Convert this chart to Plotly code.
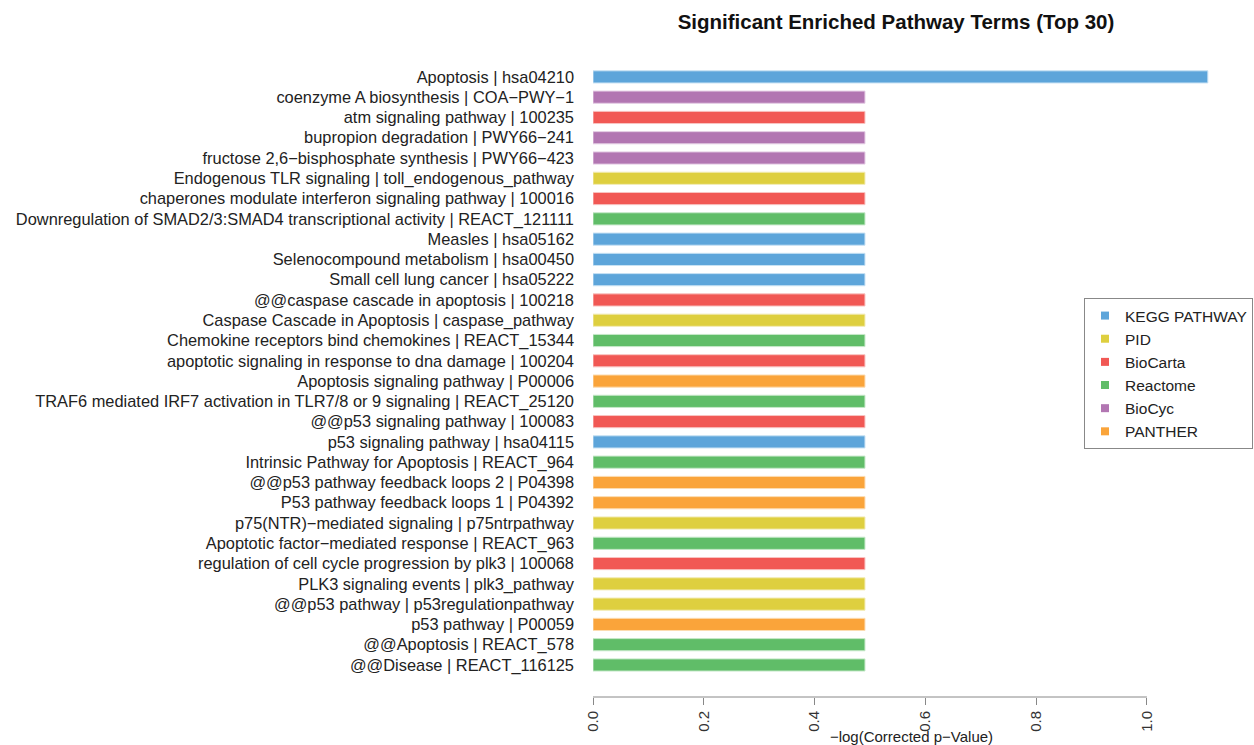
import plotly.graph_objects as go

# Top-to-bottom order as in the chart
terms = [
    "Apoptosis | hsa04210",
    "coenzyme A biosynthesis | COA−PWY−1",
    "atm signaling pathway | 100235",
    "bupropion degradation | PWY66−241",
    "fructose 2,6−bisphosphate synthesis | PWY66−423",
    "Endogenous TLR signaling | toll_endogenous_pathway",
    "chaperones modulate interferon signaling pathway | 100016",
    "Downregulation of SMAD2/3:SMAD4 transcriptional activity | REACT_121111",
    "Measles | hsa05162",
    "Selenocompound metabolism | hsa00450",
    "Small cell lung cancer | hsa05222",
    "@@caspase cascade in apoptosis | 100218",
    "Caspase Cascade in Apoptosis | caspase_pathway",
    "Chemokine receptors bind chemokines | REACT_15344",
    "apoptotic signaling in response to dna damage | 100204",
    "Apoptosis signaling pathway | P00006",
    "TRAF6 mediated IRF7 activation in TLR7/8 or 9 signaling | REACT_25120",
    "@@p53 signaling pathway | 100083",
    "p53 signaling pathway | hsa04115",
    "Intrinsic Pathway for Apoptosis | REACT_964",
    "@@p53 pathway feedback loops 2 | P04398",
    "P53 pathway feedback loops 1 | P04392",
    "p75(NTR)−mediated signaling | p75ntrpathway",
    "Apoptotic factor−mediated response | REACT_963",
    "regulation of cell cycle progression by plk3 | 100068",
    "PLK3 signaling events | plk3_pathway",
    "@@p53 pathway | p53regulationpathway",
    "p53 pathway | P00059",
    "@@Apoptosis | REACT_578",
    "@@Disease | REACT_116125",
]
sources = [
    "KEGG PATHWAY", "BioCyc", "BioCarta", "BioCyc", "BioCyc", "PID", "BioCarta",
    "Reactome", "KEGG PATHWAY", "KEGG PATHWAY", "KEGG PATHWAY", "BioCarta", "PID",
    "Reactome", "BioCarta", "PANTHER", "Reactome", "BioCarta", "KEGG PATHWAY",
    "Reactome", "PANTHER", "PANTHER", "PID", "Reactome", "BioCarta", "PID", "PID",
    "PANTHER", "Reactome", "Reactome",
]
values = [1.11] + [0.491] * 29

legend_order = ["KEGG PATHWAY", "PID", "BioCarta", "Reactome", "BioCyc", "PANTHER"]
colors = {
    "KEGG PATHWAY": "#5DA5DA",
    "PID": "#DECF3F",
    "BioCarta": "#F15854",
    "Reactome": "#60BD68",
    "BioCyc": "#B276B2",
    "PANTHER": "#FAA43A",
}
edge = {
    "KEGG PATHWAY": "#C8E2F4",
    "PID": "#F2EBB5",
    "BioCarta": "#F9C4C2",
    "Reactome": "#C6E8C9",
    "BioCyc": "#E4CCE4",
    "PANTHER": "#FCDCB2",
}

fig = go.Figure()
for src in legend_order:
    ys = [t for t, s in zip(terms, sources) if s == src]
    xs = [v for v, s in zip(values, sources) if s == src]
    fig.add_trace(go.Bar(
        x=xs, y=ys, orientation="h", name=src, showlegend=False,
        marker=dict(color=colors[src], line=dict(color=edge[src], width=1)),
    ))
# legend-only entries with small square swatches
for src in legend_order:
    fig.add_trace(go.Scatter(
        x=[None], y=[None], mode="markers", name=src,
        marker=dict(symbol="square", size=8, color=colors[src]),
    ))

font_family = "Liberation Sans, Arial, sans-serif"
L, R, T, B = 593, 24, 55, 48
plot_w = 1254 - L - R
plot_h = 745 - T - B
fig.update_layout(
    width=1254, height=745,
    margin=dict(l=L, r=R, t=T, b=B, autoexpand=False),
    paper_bgcolor="white", plot_bgcolor="white",
    barmode="overlay", bargap=0.4,
    font=dict(family=font_family, size=16, color="#222222"),
    title=dict(
        text="<b>Significant Enriched Pathway Terms (Top 30)</b>",
        x=896 / 1254, xanchor="center", xref="container",
        y=1 - 22 / 745, yanchor="middle", yref="container",
        font=dict(family=font_family, size=20.5, color="#111111"),
    ),
    legend=dict(
        x=(1084 - L) / plot_w, xanchor="left",
        y=(697 - 298) / plot_h, yanchor="top",
        bordercolor="#888888", borderwidth=1, bgcolor="white",
        font=dict(family=font_family, size=15.5, color="#222222"),
        tracegroupgap=0, itemwidth=30,
    ),
    showlegend=True,
)
fig.update_xaxes(
    range=[0, 1.15], tick0=0, dtick=0.2, tickformat=".1f", automargin=False,
    showgrid=False, zeroline=False, showline=False,
    ticks="outside", ticklen=7, tickcolor="#888888", tickwidth=1,
    tickangle=-90, tickfont=dict(size=15, color="#333333"),
    title=dict(text="−log(Corrected p−Value)", standoff=6,
               font=dict(size=15, color="#222222")),
)
fig.update_yaxes(
    type="category", categoryorder="array", categoryarray=terms[::-1],
    range=[-1.58, 30.08], showgrid=False, zeroline=False, showline=False,
    automargin=False,
    ticks="", ticklabelstandoff=18, tickfont=dict(size=16.4, color="#222222"),
)
fig.add_shape(type="line", xref="x", yref="paper", x0=0, x1=1.0, y0=0, y1=0,
              line=dict(color="#888888", width=1))

fig.write_html("out.html")
